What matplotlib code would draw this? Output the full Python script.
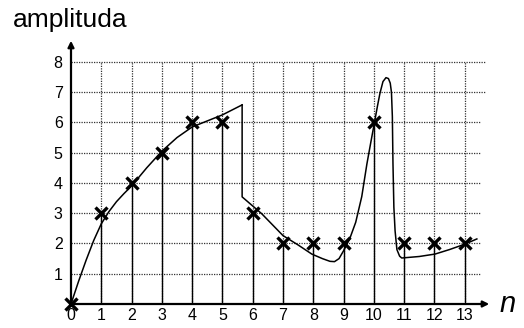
import numpy as np
import matplotlib.pyplot as plt

plt.rcParams['font.family'] = ['Liberation Sans', 'DejaVu Sans']

# próbki sygnału dyskretnego
n = np.arange(14)
probki = [0, 3, 4, 5, 6, 6, 3, 2, 2, 2, 6, 2, 2, 2]

# przebieg ciągły (dwa odcinki, skok przy n=5.65)
ciagly1_x = [0, 0.25, 0.5, 0.75, 1.0, 1.25, 1.5, 1.75, 2.0, 2.5, 3.0, 3.5, 4.0, 4.5, 5.0, 5.65]
ciagly1_y = [0, 0.75, 1.45, 2.1, 2.65, 3.05, 3.38, 3.65, 3.9, 4.5, 5.05, 5.5, 5.85, 6.05, 6.25, 6.58]
ciagly2_x = [5.65, 5.65, 6.3, 7.0, 7.5, 7.95, 8.3, 8.55, 8.7, 8.85, 9.0, 9.2, 9.4, 9.6,
             9.77, 9.9, 10.02, 10.12, 10.2, 10.3, 10.4, 10.48, 10.54, 10.58, 10.61, 10.63,
             10.66, 10.7, 10.76, 10.85, 10.92, 11.5, 12.02, 12.5, 13.01, 13.4]
ciagly2_y = [6.58, 3.54, 2.98, 2.26, 1.95, 1.65, 1.5, 1.41, 1.4, 1.5, 1.76, 2.15, 2.7, 3.55,
             4.63, 5.35, 6.0, 6.55, 6.96, 7.35, 7.48, 7.45, 7.3, 7.0, 6.2, 4.66,
             3.2, 2.42, 1.8, 1.58, 1.52, 1.57, 1.65, 1.8, 1.98, 2.15]

fig = plt.figure(figsize=(5.24, 3.28), dpi=100)
ax = fig.add_axes([71 / 524, 24 / 328, (492 - 71) / 524, (304 - 38) / 328])
ax.set_xlim(0, 13.9)
ax.set_ylim(0, 8.79)
for s in ax.spines.values():
    s.set_visible(False)

# siatka kropkowana
for y in range(1, 9):
    x_end = 13.7 if y >= 7 else 13.5
    ax.plot([0, x_end], [y, y], color='#333333', lw=0.9, ls=(0, (1, 1)), zorder=1)
for x in range(1, 14):
    ax.plot([x, x], [0, 8], color='#333333', lw=0.9, ls=(0, (1, 1)), zorder=1)

# prążki
ax.vlines(n, 0, probki, color='black', lw=1.0, zorder=2)
ax.plot(ciagly1_x, ciagly1_y, color='black', lw=1.1, zorder=3)
ax.plot(ciagly2_x, ciagly2_y, color='black', lw=1.1, zorder=3)
ax.plot(n, probki, 'x', color='black', ms=8, mew=2.4, zorder=4, clip_on=False)

# osie ze strzałkami
ax.annotate('', xy=(13.9, 0), xytext=(0, 0),
            arrowprops=dict(arrowstyle='-|>', color='black', lw=1.6, mutation_scale=9),
            annotation_clip=False)
ax.annotate('', xy=(0, 8.79), xytext=(0, 0),
            arrowprops=dict(arrowstyle='-|>', color='black', lw=1.6, mutation_scale=9),
            annotation_clip=False)

ax.set_xticks(n)
ax.set_xticklabels([str(v) for v in n], fontsize=11.5)
ax.set_yticks(range(1, 9))
ax.set_yticklabels([str(v) for v in range(1, 9)], fontsize=11.5)
ax.tick_params(length=0, pad=3)
ax.tick_params(axis='y', pad=6)

fig.text(13 / 524, 1 - 27 / 328, 'amplituda', fontsize=19, va='baseline', ha='left')
fig.text(500 / 524, 1 - 312 / 328, 'n', fontsize=21, style='italic', va='baseline', ha='left')

fig.savefig('out.png', dpi=100)
